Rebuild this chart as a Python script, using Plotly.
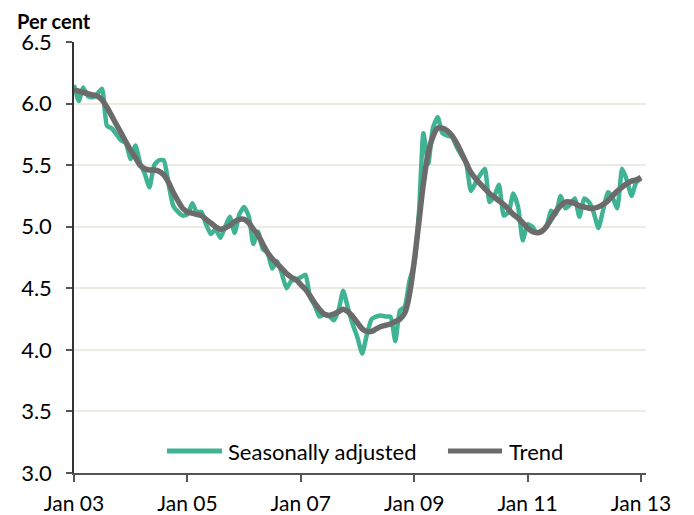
import plotly.graph_objects as go
import pandas as pd

dates = pd.date_range("2003-01-01", "2013-01-01", freq="MS")

seasonally_adjusted = [
    6.15, 6.02, 6.13, 6.06, 6.05, 6.08, 6.12, 5.82, 5.80, 5.75, 5.70,
    5.68, 5.55, 5.66, 5.52, 5.43, 5.32, 5.50, 5.54, 5.54, 5.35, 5.17, 5.12,
    5.09, 5.10, 5.19, 5.12, 5.12, 5.02, 4.94, 4.98, 4.91, 5.00, 5.08, 4.95,
    5.10, 5.16, 5.08, 4.86, 4.96, 4.82, 4.79, 4.66, 4.72, 4.62, 4.50, 4.56,
    4.57, 4.59, 4.61, 4.43, 4.36, 4.27, 4.29, 4.28, 4.24, 4.32, 4.48, 4.34,
    4.21, 4.10, 3.97, 4.12, 4.25, 4.27, 4.28, 4.27, 4.27, 4.07, 4.32, 4.35, 4.56,
    4.70, 5.13, 5.76, 5.51, 5.80, 5.89, 5.76, 5.74, 5.73, 5.65, 5.58, 5.52,
    5.29, 5.36, 5.42, 5.47, 5.20, 5.25, 5.34, 5.09, 5.12, 5.27, 5.16, 4.89,
    5.02, 5.00, 4.95, 4.97, 4.99, 5.13, 5.10, 5.25, 5.15, 5.18, 5.23, 5.08,
    5.23, 5.20, 5.12, 4.99, 5.13, 5.28, 5.24, 5.15, 5.47, 5.38, 5.25, 5.36,
    5.39,
]

trend = [
    6.11, 6.10, 6.09, 6.08, 6.07, 6.06, 6.03, 5.97, 5.90, 5.83, 5.76,
    5.69, 5.62, 5.56, 5.50, 5.47, 5.46, 5.46, 5.45, 5.42, 5.36, 5.28, 5.21,
    5.15, 5.12, 5.11, 5.10, 5.09, 5.06, 5.03, 5.00, 4.98, 4.99, 5.01, 5.04,
    5.06, 5.06, 5.03, 4.98, 4.93, 4.86, 4.79, 4.74, 4.70, 4.66, 4.62, 4.59,
    4.57, 4.53, 4.49, 4.44, 4.38, 4.33, 4.29, 4.28, 4.29, 4.31, 4.33, 4.31,
    4.27, 4.22, 4.17, 4.15, 4.15, 4.17, 4.19, 4.20, 4.21, 4.23, 4.25, 4.30, 4.45,
    4.72, 5.05, 5.35, 5.60, 5.73, 5.80, 5.80, 5.78, 5.74, 5.68, 5.60, 5.52,
    5.44, 5.39, 5.35, 5.31, 5.27, 5.24, 5.21, 5.18, 5.14, 5.10, 5.07, 5.03,
    4.99, 4.96, 4.95, 4.96, 5.00, 5.06, 5.12, 5.17, 5.20, 5.20, 5.19, 5.17,
    5.16, 5.15, 5.15, 5.16, 5.18, 5.21, 5.25, 5.29, 5.32, 5.35, 5.37, 5.38,
    5.40,
]

tick_dates = ["2003-01-01", "2005-01-01", "2007-01-01", "2009-01-01", "2011-01-01", "2013-01-01"]
tick_labels = ["Jan 03", "Jan 05", "Jan 07", "Jan 09", "Jan 11", "Jan 13"]
y_ticks = [3.0, 3.5, 4.0, 4.5, 5.0, 5.5, 6.0, 6.5]
y_labels = ["3.0", "3.5", "4.0", "4.5", "5.0", "5.5", "6.0", "6.5"]
series_names = ["Seasonally adjusted", "Trend"]
series_colors = ["#40b395", "#6b6b6b"]

FONT = "Lato, 'Open Sans', sans-serif"

fig = go.Figure()
fig.add_trace(go.Scatter(
    x=dates, y=seasonally_adjusted, mode="lines", name=series_names[0],
    line=dict(color=series_colors[0], width=4.5, shape="spline", smoothing=0.5),
    showlegend=False,
))
fig.add_trace(go.Scatter(
    x=dates, y=trend, mode="lines", name=series_names[1],
    line=dict(color=series_colors[1], width=5.5, shape="spline", smoothing=1.0),
    showlegend=False,
))

# manual legend (wider line samples than plotly's native legend)
legend_y = 0.051
shapes = [
    dict(type="line", xref="paper", yref="paper", x0=0.1626, x1=0.2587,
         y0=legend_y, y1=legend_y, line=dict(color=series_colors[0], width=5)),
    dict(type="line", xref="paper", yref="paper", x0=0.6538, x1=0.7483,
         y0=legend_y, y1=legend_y, line=dict(color=series_colors[1], width=5)),
]
annotations = [
    dict(text=series_names[0], xref="paper", yref="paper", x=0.2657, y=legend_y,
         xanchor="left", yanchor="middle", showarrow=False, font=dict(size=22)),
    dict(text=series_names[1], xref="paper", yref="paper", x=0.757, y=legend_y,
         xanchor="left", yanchor="middle", showarrow=False, font=dict(size=22)),
    dict(text="<b>Per cent</b>", xref="paper", yref="paper",
         x=-0.103, y=1.0, xanchor="left", yanchor="middle",
         yshift=21, showarrow=False, font=dict(size=20)),
]

# the page body adds an 8px margin, so the figure is 8px smaller and
# its left/top margins 8px narrower to land the plot area where the reference has it
fig.update_layout(
    width=686, height=507,
    margin=dict(l=66, r=48, t=34, b=42),
    paper_bgcolor="white", plot_bgcolor="white",
    font=dict(family=FONT, size=21, color="black"),
    showlegend=False,
    shapes=shapes,
    annotations=annotations,
)

fig.update_xaxes(
    type="date", range=["2003-01-01", "2013-02-02"],
    tickvals=tick_dates, ticktext=tick_labels,
    showgrid=False, showline=True, linecolor="#555555", linewidth=1.5,
    ticks="outside", ticklen=7, tickcolor="#555555", tickwidth=1.5,
    tickfont=dict(size=21), zeroline=False, automargin=False,
    ticklabelstandoff=4,
)
fig.update_yaxes(
    range=[3.0, 6.5], tickvals=y_ticks, ticktext=y_labels,
    showgrid=True, gridcolor="#ecece2", gridwidth=1.5,
    showline=True, linecolor="#333333", linewidth=1.5,
    ticks="outside", ticklen=6, tickcolor="#555555", tickwidth=1.5,
    tickfont=dict(size=22), zeroline=False, automargin=False,
    ticklabelstandoff=10,
)

fig.write_html("out.html")
